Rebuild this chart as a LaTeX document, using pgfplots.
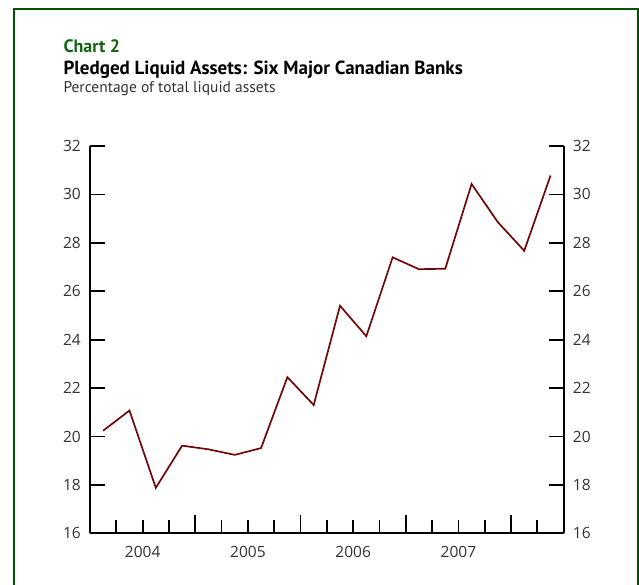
\documentclass[border=0pt]{standalone}
\usepackage{fontspec}
\setmainfont{PT Sans}
\newfontfamily\tickfont{Open Sans}
\usepackage{pgfplots}
\pgfplotsset{compat=1.18}
\definecolor{framegreen}{RGB}{0,82,0}
\definecolor{titlegreen}{RGB}{20,100,20}
\definecolor{linered}{RGB}{112,8,8}
\definecolor{ticktext}{RGB}{51,51,51}
\pgfplotstableread{
x y
0.5 20.24
1.5 21.07
2.5 17.88
3.5 19.62
4.5 19.47
5.5 19.24
6.5 19.52
7.5 22.45
8.5 21.30
9.5 25.40
10.5 24.14
11.5 27.40
12.5 26.91
13.5 26.93
14.5 30.43
15.5 28.85
16.5 27.67
17.5 30.78
}\pledged
\pgfplotsset{
  base/.style={
    at={(90pt,51.7pt)}, anchor=south west, scale only axis,
    width=473.7pt, height=387.3pt,
    xmin=0, xmax=18, ymin=16, ymax=32,
    /pgf/number format/assume math mode=true,
    ticklabel style={font=\tickfont\fontsize{15.5}{18}\selectfont, text=ticktext},
  },
  fin/.style={
    tick align=inside,
    tick style={black, line width=1.8pt},
    axis line style={black, line width=1.8pt, -},
    x axis line style={-}, y axis line style={-},
  }
}
\begin{document}
\begin{tikzpicture}[x=1pt,y=1pt]
\useasboundingbox (0,0) rectangle (639,585);
\draw[framegreen, line width=2.4pt] (14.2,-10) -- (14.2,576) -- (637.8,576) -- (637.8,-10);
\node[anchor=base west, inner sep=0pt, text=titlegreen, font=\bfseries\fontsize{18}{20}\selectfont] at (63.3,532.3) {Chart 2};
\node[anchor=base west, inner sep=0pt, font=\bfseries\fontsize{19}{22}\selectfont] at (63.3,510) {Pledged Liquid Assets: Six Major Canadian Banks};
\node[anchor=base west, inner sep=0pt, text=ticktext, font=\fontsize{15.5}{18}\selectfont] at (63.3,492.3) {Percentage of total liquid assets};
% x axis with ticks and the data
\begin{axis}[base,
  axis x line=bottom, axis y line=none, fin,
  xtick={4,8,12,16}, xticklabels={},
  major tick length=18pt,
  minor xtick={1,2,3,5,6,7,9,10,11,13,14,15,17},
  minor tick length=13pt,
  clip=false]
\addplot[linered, line width=1.7pt, mark=none] table[x=x,y=y] {\pledged};
\end{axis}
% x labels
\begin{axis}[base,
  axis x line=bottom, axis y line=none, fin,
  x axis line style={draw=none},
  xtick={2,6,10,14}, xticklabels={2004,2005,2006,2007},
  major tick length=0pt,
  xticklabel style={inner sep=0pt, anchor=north, yshift=-12.5pt}]
\end{axis}
% left y axis
\begin{axis}[base,
  axis x line=none, axis y line=left, fin,
  ytick={16,18,...,32}, major tick length=15pt,
  yticklabel style={inner sep=0pt, anchor=east, xshift=-9pt}]
\end{axis}
% right y axis
\begin{axis}[base,
  axis x line=none, axis y line=right, fin,
  ytick={16,18,...,32}, major tick length=15pt,
  yticklabel style={inner sep=0pt, anchor=west, xshift=9pt}]
\end{axis}
\end{tikzpicture}
\end{document}
